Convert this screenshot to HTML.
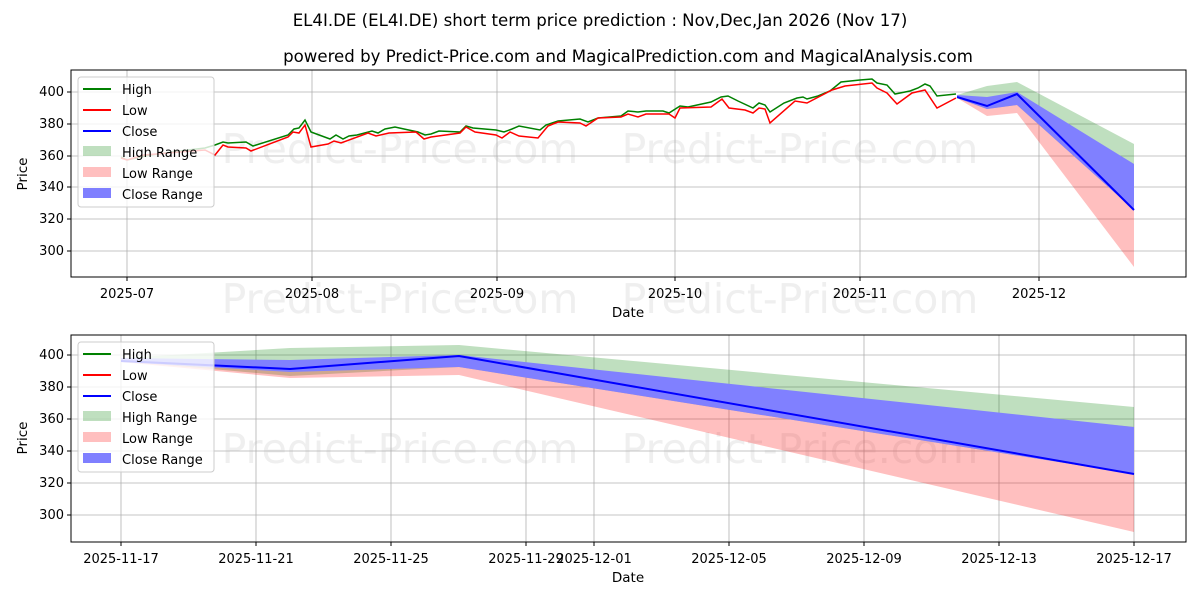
<!DOCTYPE html>
<html><head><meta charset="utf-8"><style>
body{margin:0;background:#fff;}
svg text{font-family:"DejaVu Sans","Liberation Sans",sans-serif;}
</style></head><body>
<svg width="1200" height="600" viewBox="0 0 1200 600" xmlns="http://www.w3.org/2000/svg">
<rect width="1200" height="600" fill="#fff"/>
<text x="600" y="26" font-size="16.6" text-anchor="middle">EL4I.DE (EL4I.DE) short term price prediction : Nov,Dec,Jan 2026 (Nov 17)</text>
<text x="628" y="62" font-size="16.6" text-anchor="middle">powered by Predict-Price.com and MagicalPrediction.com and MagicalAnalysis.com</text>

<!-- TOP CHART -->
<g font-size="13" fill="#000">
<text x="400" y="163" font-size="41" fill="#efefef" text-anchor="middle">Predict-Price.com</text>
<text x="800" y="163" font-size="41" fill="#efefef" text-anchor="middle">Predict-Price.com</text>
<text x="400" y="313" font-size="41" fill="#efefef" text-anchor="middle">Predict-Price.com</text>
<text x="800" y="313" font-size="41" fill="#efefef" text-anchor="middle">Predict-Price.com</text>
<g stroke="#b0b0b0" stroke-width="0.8">
<line x1="71" x2="1186" y1="92" y2="92"/><line x1="71" x2="1186" y1="124" y2="124"/><line x1="71" x2="1186" y1="156" y2="156"/><line x1="71" x2="1186" y1="187" y2="187"/><line x1="71" x2="1186" y1="219" y2="219"/><line x1="71" x2="1186" y1="251" y2="251"/>
<line x1="127" x2="127" y1="70" y2="277"/><line x1="312" x2="312" y1="70" y2="277"/><line x1="497" x2="497" y1="70" y2="277"/><line x1="675" x2="675" y1="70" y2="277"/><line x1="860" x2="860" y1="70" y2="277"/><line x1="1039" x2="1039" y1="70" y2="277"/>
</g>
<polygon fill="#008000" fill-opacity="0.25" points="957,95 987,86 1017,82 1134,144 1134,210 1017,105 987,109 957,98"/>
<polygon fill="#ff0000" fill-opacity="0.25" points="957,96 987,100 1017,96 1134,164 1134,267 1017,113 987,116 957,98"/>
<polygon fill="#8080ff" points="957,95 987,97 1017,92 1134,164 1134,210 1017,105 987,109 957,98"/>
<polyline fill="none" stroke="#008000" stroke-width="1.5" points="121,157 127,160 150,155 180,151 205,148 215,145 223,142 228,143 246,142 253,146 288,135 294,129 299,128 305,120 311,132 330,139 336,135 343,139 349,136 357,135 372,131 378,133 385,129 395,127 404,129 418,132 425,135 431,134 439,131 460,132 466,126 473,128 496,130 504,132 512,129 519,126 540,130 546,125 558,121 580,119 588,122 598,118 621,116 628,111 638,112 646,111 663,111 669,113 680,106 688,107 711,102 721,97 728,96 738,101 753,108 759,103 765,105 770,112 784,103 797,98 803,97 807,99 818,96 830,91 841,82 860,80 872,79 877,83 887,85 895,94 910,91 918,88 925,84 930,86 937,96 956,94"/>
<polyline fill="none" stroke="#ff0000" stroke-width="1.5" points="121,158 127,160 144,155 180,152 205,150 215,155 223,145 228,147 246,148 251,151 288,137 293,132 299,133 305,125 311,147 328,144 334,141 341,143 368,133 376,136 389,133 416,132 424,139 431,137 460,133 466,127 475,132 496,135 502,138 510,132 519,136 538,138 548,126 558,122 580,123 586,126 598,118 621,117 628,114 638,117 646,114 669,114 675,118 680,108 711,107 722,99 729,108 745,110 753,113 759,108 765,109 770,123 795,101 807,103 832,90 845,86 872,83 877,88 887,93 897,104 912,93 925,90 937,108 956,98"/>
<polyline fill="none" stroke="#0000ff" stroke-width="2" points="957,97 987,106 1017,94 1134,210"/>
<rect x="71" y="70" width="1115" height="207" fill="none" stroke="#000" stroke-width="1"/>
<g stroke="#000"><line x1="67" x2="71" y1="92" y2="92"/><line x1="67" x2="71" y1="124" y2="124"/><line x1="67" x2="71" y1="156" y2="156"/><line x1="67" x2="71" y1="187" y2="187"/><line x1="67" x2="71" y1="219" y2="219"/><line x1="67" x2="71" y1="251" y2="251"/>
<line x1="127" x2="127" y1="277" y2="281"/><line x1="312" x2="312" y1="277" y2="281"/><line x1="497" x2="497" y1="277" y2="281"/><line x1="675" x2="675" y1="277" y2="281"/><line x1="860" x2="860" y1="277" y2="281"/><line x1="1039" x2="1039" y1="277" y2="281"/></g>
<g text-anchor="end"><text x="64" y="96">400</text><text x="64" y="128">380</text><text x="64" y="160">360</text><text x="64" y="191">340</text><text x="64" y="223">320</text><text x="64" y="255">300</text></g>
<g text-anchor="middle"><text x="127" y="298">2025-07</text><text x="312" y="298">2025-08</text><text x="497" y="298">2025-09</text><text x="675" y="298">2025-10</text><text x="860" y="298">2025-11</text><text x="1039" y="298">2025-12</text>
<text x="628" y="317" font-size="13.5">Date</text></g>
<text x="27" y="174" font-size="13.5" text-anchor="middle" transform="rotate(-90 27 174)">Price</text>
<rect x="78" y="77" width="136" height="130" rx="3" fill="#fff" fill-opacity="0.8" stroke="#ccc"/>
<line x1="83" x2="111" y1="89" y2="89" stroke="#008000" stroke-width="2"/><text x="122" y="94">High</text>
<line x1="83" x2="111" y1="110" y2="110" stroke="#ff0000" stroke-width="2"/><text x="122" y="115">Low</text>
<line x1="83" x2="111" y1="131" y2="131" stroke="#0000ff" stroke-width="2"/><text x="122" y="136">Close</text>
<rect x="83" y="146" width="28" height="10" fill="#008000" fill-opacity="0.25"/><text x="122" y="157">High Range</text>
<rect x="83" y="167" width="28" height="10" fill="#ff0000" fill-opacity="0.25"/><text x="122" y="178">Low Range</text>
<rect x="83" y="188" width="28" height="10" fill="#0000ff" fill-opacity="0.5"/><text x="122" y="199">Close Range</text>
</g>

<!-- BOTTOM CHART -->
<g font-size="13" fill="#000">
<text x="400" y="463" font-size="41" fill="#efefef" text-anchor="middle">Predict-Price.com</text>
<text x="800" y="463" font-size="41" fill="#efefef" text-anchor="middle">Predict-Price.com</text>
<g stroke="#b0b0b0" stroke-width="0.8">
<line x1="71" x2="1186" y1="355" y2="355"/><line x1="71" x2="1186" y1="387" y2="387"/><line x1="71" x2="1186" y1="419" y2="419"/><line x1="71" x2="1186" y1="451" y2="451"/><line x1="71" x2="1186" y1="483" y2="483"/><line x1="71" x2="1186" y1="515" y2="515"/>
<line x1="121" x2="121" y1="335" y2="542"/><line x1="256" x2="256" y1="335" y2="542"/><line x1="391" x2="391" y1="335" y2="542"/><line x1="526" x2="526" y1="335" y2="542"/><line x1="594" x2="594" y1="335" y2="542"/><line x1="729" x2="729" y1="335" y2="542"/><line x1="864" x2="864" y1="335" y2="542"/><line x1="999" x2="999" y1="335" y2="542"/><line x1="1134" x2="1134" y1="335" y2="542"/>
</g>
<polygon fill="#008000" fill-opacity="0.25" points="121,358 290,348 459,345 1134,407 1134,474 459,367 290,376 121,361"/>
<polygon fill="#ff0000" fill-opacity="0.25" points="121,360 290,368 459,363 1134,427 1134,532 459,375 290,378 121,362"/>
<polygon fill="#8080ff" points="121,358 290,360 459,355 1134,427 1134,474 459,367 290,372 121,362"/>
<polyline fill="none" stroke="#0000ff" stroke-width="2" points="121,361 290,369 459,356 1134,474"/>
<rect x="71" y="335" width="1115" height="207" fill="none" stroke="#000" stroke-width="1"/>
<g stroke="#000"><line x1="67" x2="71" y1="355" y2="355"/><line x1="67" x2="71" y1="387" y2="387"/><line x1="67" x2="71" y1="419" y2="419"/><line x1="67" x2="71" y1="451" y2="451"/><line x1="67" x2="71" y1="483" y2="483"/><line x1="67" x2="71" y1="515" y2="515"/>
<line x1="121" x2="121" y1="542" y2="546"/><line x1="256" x2="256" y1="542" y2="546"/><line x1="391" x2="391" y1="542" y2="546"/><line x1="526" x2="526" y1="542" y2="546"/><line x1="594" x2="594" y1="542" y2="546"/><line x1="729" x2="729" y1="542" y2="546"/><line x1="864" x2="864" y1="542" y2="546"/><line x1="999" x2="999" y1="542" y2="546"/><line x1="1134" x2="1134" y1="542" y2="546"/></g>
<g text-anchor="end"><text x="64" y="359">400</text><text x="64" y="391">380</text><text x="64" y="423">360</text><text x="64" y="455">340</text><text x="64" y="487">320</text><text x="64" y="519">300</text></g>
<g text-anchor="middle"><text x="121" y="563">2025-11-17</text><text x="256" y="563">2025-11-21</text><text x="391" y="563">2025-11-25</text><text x="526" y="563">2025-11-29</text><text x="594" y="563">2025-12-01</text><text x="729" y="563">2025-12-05</text><text x="864" y="563">2025-12-09</text><text x="999" y="563">2025-12-13</text><text x="1134" y="563">2025-12-17</text>
<text x="628" y="582" font-size="13.5">Date</text></g>
<text x="27" y="438" font-size="13.5" text-anchor="middle" transform="rotate(-90 27 438)">Price</text>
<rect x="78" y="342" width="136" height="130" rx="3" fill="#fff" fill-opacity="0.8" stroke="#ccc"/>
<line x1="83" x2="111" y1="354" y2="354" stroke="#008000" stroke-width="2"/><text x="122" y="359">High</text>
<line x1="83" x2="111" y1="375" y2="375" stroke="#ff0000" stroke-width="2"/><text x="122" y="380">Low</text>
<line x1="83" x2="111" y1="396" y2="396" stroke="#0000ff" stroke-width="2"/><text x="122" y="401">Close</text>
<rect x="83" y="411" width="28" height="10" fill="#008000" fill-opacity="0.25"/><text x="122" y="422">High Range</text>
<rect x="83" y="432" width="28" height="10" fill="#ff0000" fill-opacity="0.25"/><text x="122" y="443">Low Range</text>
<rect x="83" y="453" width="28" height="10" fill="#0000ff" fill-opacity="0.5"/><text x="122" y="464">Close Range</text>
</g>
</svg>
</body></html>
